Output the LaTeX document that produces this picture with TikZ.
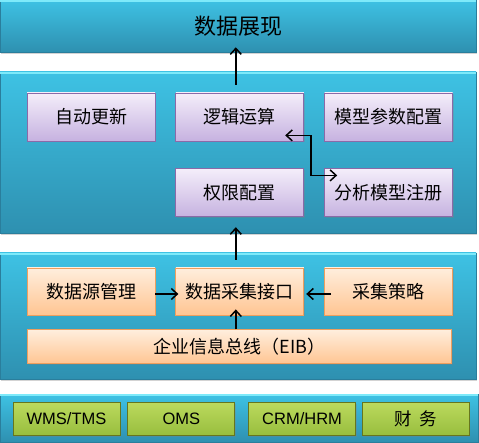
\documentclass[tikz,border=0pt]{standalone}
\usepackage{fontspec}
\setmainfont{Liberation Sans}
\newfontfamily\cjk{Noto Sans CJK SC}
\usetikzlibrary{
  positioning,
  arrows.meta,
  shadows,
  calc
}
\definecolor{bandTop}{HTML}{3EC2E4}
\definecolor{bandBottom}{HTML}{2E90B0}
\definecolor{bandLine}{HTML}{2A7E9C}
\definecolor{bandEdgeCyan}{HTML}{7EEAFA}
\definecolor{funcTop}{HTML}{F4EEFA}
\definecolor{funcBottom}{HTML}{C6B2E0}
\definecolor{funcLine}{HTML}{8A6AA8}
\definecolor{collectTop}{HTML}{FFEEDD}
\definecolor{collectBottom}{HTML}{FFC592}
\definecolor{collectLine}{HTML}{EE9F5E}
\definecolor{sysTop}{HTML}{BCDA5E}
\definecolor{sysBottom}{HTML}{98BE3E}
\definecolor{sysLine}{HTML}{66761E}
\tikzset{
  band/.style={
    rectangle, inner sep=0pt, minimum width=476pt,
    top color=bandTop, bottom color=bandBottom, draw=bandLine,
    line width=0.6pt,
    drop shadow={opacity=0.35, shadow xshift=1pt, shadow yshift=-2pt}
  },
  bandEdge/.style={draw=bandEdgeCyan, line width=2.5pt},
  base/.style={
    rectangle, inner sep=2pt, minimum width=128pt, minimum height=48pt,
    font=\cjk\fontsize{18}{20}\selectfont, line width=0.8pt,
    drop shadow={opacity=0.3, shadow xshift=1pt, shadow yshift=-1.5pt}
  },
  funcNode/.style={
    base, top color=funcTop, bottom color=funcBottom, draw=funcLine
  },
  collectNode/.style={
    base, minimum height=47pt,
    top color=collectTop, bottom color=collectBottom, draw=collectLine
  },
  sysNode/.style={
    base, minimum width=107pt, minimum height=33pt,
    font=\fontsize{16.5}{18}\selectfont,
    top color=sysTop, bottom color=sysBottom, draw=sysLine
  },
  flow/.style={
    draw, -{Straight Barb[length=6pt,width=11pt,line width=1.5pt]},
    line width=1.5pt, color=black
  },
  flowBoth/.style={
    flow, {Straight Barb[length=6pt,width=11pt,line width=1.5pt]}-{Straight Barb[length=6pt,width=11pt,line width=1.5pt]}
  }
}

\begin{document}
\begin{tikzpicture}[x=1pt, y=-1pt]
\useasboundingbox (0,0) rectangle (479,443);

% ── LAYERS ────────────────────────────────────────────────────────
\node[band, minimum height=52pt, font=\cjk\fontsize{22}{24}\selectfont]
  at (238,26) (show) {数据展现};
\node[band, minimum height=161pt] at (238,152.5) (analysis) {};
\node[band, minimum height=126pt] at (238,316) (collect) {};
\node[band, minimum width=478pt, minimum height=48pt] at (239,418) (systems) {};

\draw[bandEdge] ([yshift=-1.2pt]show.north west) -- ([yshift=-1.2pt]show.north east);
\draw[bandEdge] ([yshift=-1.2pt]analysis.north west) -- ([yshift=-1.2pt]analysis.north east);
\draw[bandEdge] ([yshift=-1.2pt]collect.north west) -- ([yshift=-1.2pt]collect.north east);
\draw[bandEdge] ([yshift=-1.2pt]systems.north west) -- ([yshift=-1.2pt]systems.north east);

% ── ANALYSIS LAYER ────────────────────────────────────────────────
\node[funcNode] at (91,117) (update) {自动更新};
\node[funcNode, right=20pt of update] (logic) {逻辑运算};
\node[funcNode, right=20pt of logic]  (param) {模型参数配置};
\node[funcNode, below=27pt of logic]  (perm)  {权限配置};
\node[funcNode, below=27pt of param]  (reg)   {分析模型注册};

% ── COLLECTION LAYER ──────────────────────────────────────────────
\node[collectNode] at (91,291.5) (source) {数据源管理};
\node[collectNode, right=20pt of source] (acq)   {数据采集接口};
\node[collectNode, right=20pt of acq]    (strat) {采集策略};
\node[collectNode, below=14pt of acq, minimum width=424pt, minimum height=34pt]
  (eib) {企业信息总线（EIB）};

% ── SOURCE SYSTEMS ────────────────────────────────────────────────
\node[sysNode] at (66.5,418.5) (wms) {WMS/TMS};
\node[sysNode, right=7pt of wms]  (oms) {OMS};
\node[sysNode, right=13pt of oms] (crm) {CRM/HRM};
\node[sysNode, right=6pt of crm]  (fin) {\cjk\fontsize{17.5}{18}\selectfont 财\hspace{8pt}务};

% ── EDGES ─────────────────────────────────────────────────────────
% Collection → Analysis → Presentation
\draw[flow] ([xshift=-4pt,yshift=8pt]acq.north) -- ([xshift=-4pt,yshift=-10pt]perm.south);
\draw[flow] ([xshift=-4pt,yshift=8pt]logic.north) -- ([xshift=-4pt,yshift=5pt]logic.north |- show.south);

% Inside analysis layer
\draw[flowBoth] ([xshift=-19pt,yshift=6pt]logic.south east) -- ++(26pt,0)
  |- ([xshift=13pt,yshift=-7pt]reg.north west);

% Inside collection layer
\draw[flow] ([yshift=-2.5pt]source.east) -- ([xshift=3pt,yshift=-2.5pt]acq.west);
\draw[flow] ([xshift=7pt,yshift=-2.5pt]strat.west) -- ([xshift=2pt,yshift=-2.5pt]acq.east);
\draw[flow] ([xshift=-4pt]eib.north -| acq.south) -- ([xshift=-4pt,yshift=6pt]acq.south);

\end{tikzpicture}
\end{document}
